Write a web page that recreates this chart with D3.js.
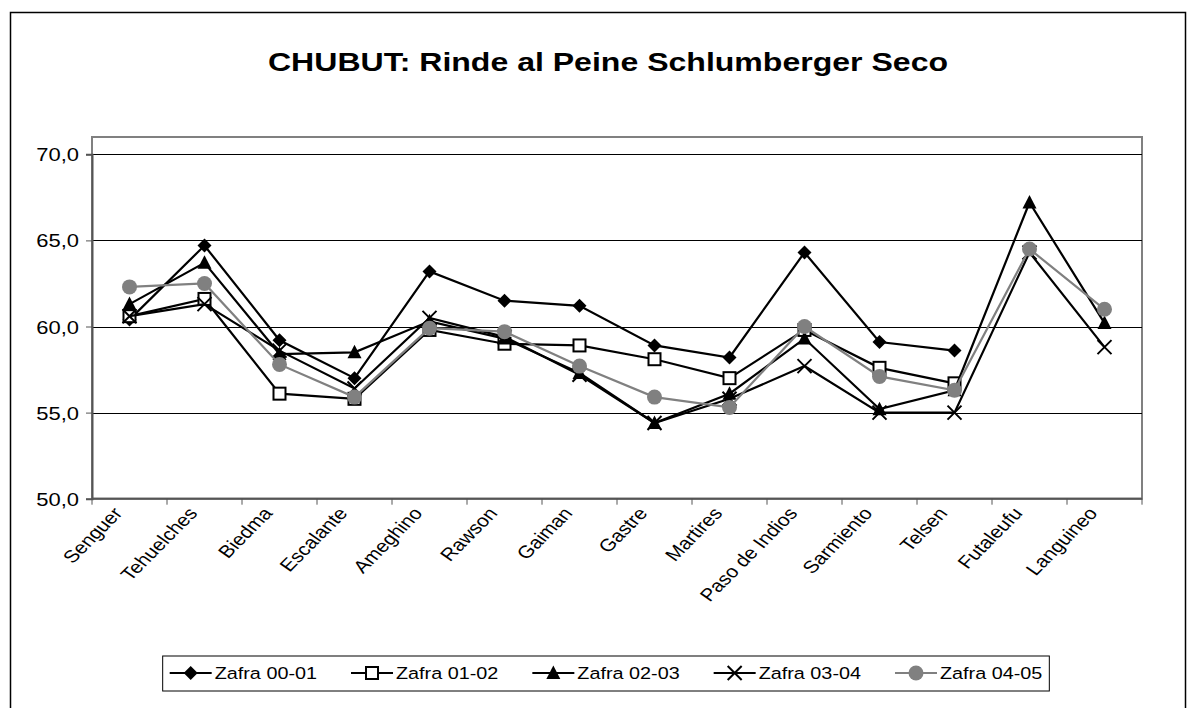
<!DOCTYPE html>
<html>
<head>
<meta charset="utf-8">
<script src="https://cdn.jsdelivr.net/npm/d3@7"></script>
<style>
  body { margin: 0; background: #fff; }
  text { font-family: "Liberation Sans", Arial, sans-serif; fill: #000; }
</style>
</head>
<body>
<svg id="chart" width="1191" height="708"></svg>
<script>
// --- data
const departments = ["Senguer", "Tehuelches", "Biedma", "Escalante", "Ameghino", "Rawson", "Gaiman",
  "Gastre", "Martires", "Paso de Indios", "Sarmiento", "Telsen", "Futaleufu", "Languineo"]
const seriesNames = ["Zafra 00-01", "Zafra 01-02", "Zafra 02-03", "Zafra 03-04", "Zafra 04-05"]
const zafra0001 = [60.4, 64.7, 59.2, 57.0, 63.2, 61.5, 61.2, 58.9, 58.2, 64.3, 59.1, 58.6, null, null]
const zafra0102 = [60.6, 61.6, 56.1, 55.8, 59.8, 59.0, 58.9, 58.1, 57.0, 59.8, 57.6, 56.7, null, null]
const zafra0203 = [61.3, 63.7, 58.4, 58.5, 60.3, 59.3, 57.3, 54.4, 56.1, 59.3, 55.2, 56.3, 67.2, 60.2]
const zafra0304 = [60.6, 61.3, 58.6, 56.4, 60.5, 59.4, 57.2, 54.4, 55.8, 57.7, 55.0, 55.0, 64.3, 58.8]
const zafra0405 = [62.3, 62.5, 57.8, 55.9, 59.9, 59.7, 57.7, 55.9, 55.3, 60.0, 57.1, 56.3, 64.5, 61.0]
const yTicks = [50, 55, 60, 65, 70]

const allSeries = [zafra0001, zafra0102, zafra0203, zafra0304, zafra0405]
const markers = ["diamond", "square", "triangle", "cross", "circle"]
const colors = ["#000", "#000", "#000", "#000", "#808080"]

// reference text looks horizontally stretched
const SX = 1.2

const svg = d3.select("#chart")

// outer chart frame
svg.append("rect")
  .attr("x", 10.5).attr("y", 12.5)
  .attr("width", 1175).attr("height", 730)
  .attr("fill", "none").attr("stroke", "#000").attr("stroke-width", 1.5)

svg.append("text")
  .attr("transform", `translate(608,71) scale(1.205,1)`)
  .attr("text-anchor", "middle")
  .style("font-size", "26.6px").style("font-weight", "bold")
  .text("CHUBUT: Rinde al Peine Schlumberger Seco")

const plot = { left: 92, right: 1142, top: 137, bottom: 498.7 }

const x = d3.scaleBand().domain(departments).range([plot.left, plot.right])
const y = d3.scaleLinear().domain([50, 70]).range([plot.bottom, 154.3])
const cx = d => x(d) + x.bandwidth() / 2

// plot area border
svg.append("rect")
  .attr("x", plot.left).attr("y", plot.top)
  .attr("width", plot.right - plot.left).attr("height", plot.bottom - plot.top)
  .attr("fill", "none").attr("stroke", "#808080").attr("stroke-width", 2)

// gridlines
svg.append("g").selectAll("line")
  .data(yTicks.filter(t => t > 50))
  .join("line")
  .attr("x1", plot.left).attr("x2", plot.right)
  .attr("y1", d => Math.round(y(d)) + 0.5).attr("y2", d => Math.round(y(d)) + 0.5)
  .attr("stroke", "#000").attr("stroke-width", 1)

// y axis
const yAxis = svg.append("g")
  .attr("transform", `translate(${plot.left},0)`)
  .call(d3.axisLeft(y).tickValues(yTicks).tickSize(6).tickPadding(0).tickFormat(d => d3.format(".1f")(d).replace(".", ",")))
yAxis.select(".domain").attr("stroke", "#555").attr("stroke-width", 2)
yAxis.selectAll(".tick line").attr("stroke", "#555")
yAxis.selectAll(".tick text")
  .attr("x", null).attr("dy", null)
  .attr("text-anchor", "end")
  .attr("transform", `translate(-13,6.5) scale(${SX},1)`)
  .style("font-size", "18.3px").style("font-family", "'Liberation Sans', Arial, sans-serif")

// x axis with ticks on category boundaries
const xg = svg.append("g")
xg.append("line")
  .attr("x1", plot.left).attr("x2", plot.right)
  .attr("y1", plot.bottom).attr("y2", plot.bottom)
  .attr("stroke", "#555").attr("stroke-width", 2)
xg.selectAll(".tk")
  .data(departments.concat([null]))
  .join("line")
  .attr("class", "tk")
  .attr("x1", (d, i) => plot.left + i * x.bandwidth())
  .attr("x2", (d, i) => plot.left + i * x.bandwidth())
  .attr("y1", plot.bottom).attr("y2", plot.bottom + 6)
  .attr("stroke", "#555")
// rotated then stretched, so the baseline ends up at 45 degrees with a slant like the source
xg.selectAll(".lbl")
  .data(departments)
  .join("text")
  .attr("class", "lbl")
  .attr("text-anchor", "end")
  .attr("transform", d => `translate(${cx(d) - 6},${plot.bottom + 15}) scale(${SX},1) rotate(-50.2)`)
  .style("font-size", "17.5px")
  .text(d => d)

// marker drawing helper
function drawMarker(g, kind, color) {
  if (kind === "diamond") {
    g.append("path").attr("d", "M0,-7L7,0L0,7L-7,0Z").attr("fill", "#000")
  } else if (kind === "square") {
    g.append("rect").attr("x", -6).attr("y", -6).attr("width", 12).attr("height", 12)
      .attr("fill", "#fff").attr("stroke", "#000").attr("stroke-width", 2)
  } else if (kind === "triangle") {
    g.append("path").attr("d", "M0,-7.5L7,6L-7,6Z").attr("fill", "#000")
  } else if (kind === "cross") {
    g.append("path").attr("d", "M-7,-7L7,7M-7,7L7,-7").attr("stroke", "#000").attr("stroke-width", 2)
  } else {
    g.append("circle").attr("r", 7.5).attr("fill", color)
  }
}

const line = d3.line()
  .defined(d => d.v !== null)
  .x(d => cx(d.name))
  .y(d => y(d.v))

allSeries.forEach((vals, si) => {
  const pts = vals.map((v, i) => ({ name: departments[i], v }))
  const g = svg.append("g")
  g.append("path")
    .datum(pts)
    .attr("d", line)
    .attr("fill", "none")
    .attr("stroke", colors[si])
    .attr("stroke-width", 2.2)
  pts.filter(p => p.v !== null).forEach(p => {
    const m = g.append("g").attr("transform", `translate(${cx(p.name)},${y(p.v)})`)
    drawMarker(m, markers[si], colors[si])
  })
})

// legend
const legend = svg.append("g")
const legendY = 673
const gap = 34
let cursor = 0
const entries = []
seriesNames.forEach((name, si) => {
  const eg = legend.append("g")
  eg.append("line").attr("x1", 0).attr("x2", 42).attr("y1", 0).attr("y2", 0)
    .attr("stroke", colors[si]).attr("stroke-width", 2.2)
  const m = eg.append("g").attr("transform", "translate(21,0)")
  drawMarker(m, markers[si], colors[si])
  const t = eg.append("text")
    .attr("transform", `translate(45,6) scale(${SX},1)`)
    .style("font-size", "16.5px")
    .text(name)
  const w = 45 + t.node().getComputedTextLength() * SX
  entries.push({ eg, start: cursor })
  cursor += w + gap
})
const totalW = cursor - gap
const legendLeft = 606 - totalW / 2
entries.forEach(e => e.eg.attr("transform", `translate(${legendLeft + e.start},${legendY})`))
legend.insert("rect", ":first-child")
  .attr("x", legendLeft - 7).attr("y", legendY - 17)
  .attr("width", totalW + 14).attr("height", 35)
  .attr("fill", "#fff").attr("stroke", "#000").attr("stroke-width", 1)
</script>
</body>
</html>
